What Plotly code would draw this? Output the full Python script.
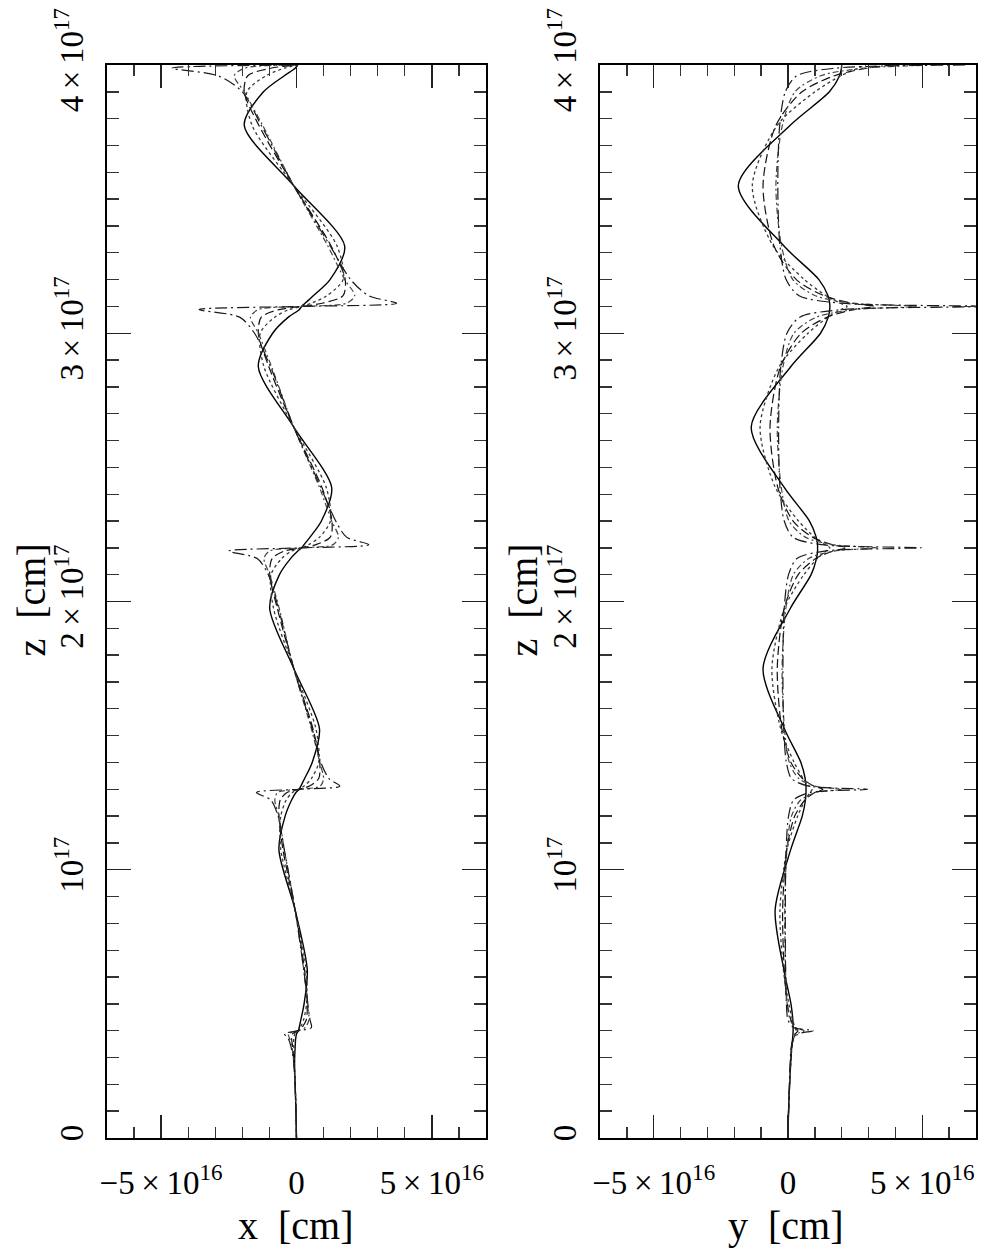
import plotly.graph_objects as go

# ---------------- data (z in units of 1e17 cm, x / y in units of 1e16 cm) ----------------
z_e17 = [0, 0.1, 0.2, 0.28, 0.34, 0.37, 0.388,
         0.40, 0.412, 0.44, 0.50, 0.625, 0.85, 1.075, 1.20, 1.26, 1.288,
         1.30, 1.312, 1.34, 1.40, 1.525, 1.75, 1.975, 2.10, 2.16, 2.188,
         2.20, 2.212, 2.24, 2.30, 2.425, 2.65, 2.875, 3.00, 3.06, 3.088,
         3.10, 3.112, 3.14, 3.20, 3.325, 3.55, 3.775, 3.90, 3.96, 3.988,
         4.00]

# left panel: x(z)
x_solid = [0, -0.02, -0.05, -0.07, -0.05, -0.03, 0.0,
           0.07, 0.10, 0.16, 0.28, 0.40, -0.05, -0.65, -0.42, -0.18, -0.02,
           0.10, 0.16, 0.30, 0.58, 0.85, -0.10, -0.99, -0.63, -0.22, 0.05,
           0.19, 0.28, 0.50, 0.92, 1.30, -0.10, -1.41, -0.88, -0.30, 0.10,
           0.19, 0.32, 0.62, 1.24, 1.78, -0.10, -1.93, -1.22, -0.45, -0.05,
           0.05]
x_dot = [0, -0.02, -0.05, -0.08, -0.10, -0.10, -0.06,
         0.07, 0.14, 0.26, 0.37, 0.36, -0.05, -0.58, -0.58, -0.38, -0.15,
         0.10, 0.28, 0.55, 0.82, 0.72, -0.10, -0.85, -0.94, -0.55, -0.18,
         0.19, 0.45, 0.85, 1.25, 1.10, -0.10, -1.20, -1.34, -0.80, -0.28,
         0.19, 0.55, 1.12, 1.72, 1.50, -0.10, -1.64, -1.83, -1.12, -0.45,
         0.05]
x_dash = [0, -0.02, -0.05, -0.09, -0.14, -0.18, -0.15,
          0.07, 0.20, 0.36, 0.40, 0.30, -0.05, -0.50, -0.65, -0.60, -0.35,
          0.10, 0.48, 0.82, 0.86, 0.61, -0.10, -0.71, -0.99, -0.90, -0.45,
          0.19, 0.72, 1.25, 1.31, 0.94, -0.10, -1.02, -1.41, -1.30, -0.65,
          0.19, 0.95, 1.72, 1.80, 1.28, -0.10, -1.39, -1.93, -1.80, -0.95,
          0.05]
x_dashdot = [0, -0.02, -0.05, -0.10, -0.17, -0.25, -0.30,
             0.07, 0.32, 0.46, 0.40, 0.27, -0.05, -0.45, -0.65, -0.80, -0.70,
             0.10, 0.88, 1.00, 0.86, 0.55, -0.10, -0.64, -0.99, -1.20, -1.00,
             0.19, 1.35, 1.55, 1.30, 0.85, -0.10, -0.92, -1.41, -1.70, -1.41,
             0.19, 1.85, 2.15, 1.78, 1.16, -0.10, -1.25, -1.93, -2.30, -1.93,
             0.05]
x_longdashdot = [0, -0.02, -0.05, -0.10, -0.20, -0.30, -0.44,
                 0.07, 0.55, 0.50, 0.42, 0.27, -0.05, -0.45, -0.68, -0.95, -1.48,
                 0.10, 1.60, 1.20, 0.90, 0.58, -0.10, -0.67, -1.04, -1.45, -2.50,
                 0.19, 2.67, 1.85, 1.45, 0.90, -0.10, -0.96, -1.55, -2.10, -3.60,
                 0.19, 3.70, 2.67, 2.00, 1.25, -0.10, -1.30, -2.00, -2.90, -4.60,
                 0.05]

# right panel: y(z)
y_solid = [0, 0.02, 0.06, 0.10, 0.14, 0.17, 0.185,
           0.19, 0.19, 0.18, 0.11, -0.15, -0.48, 0.10, 0.53, 0.65, 0.67,
           0.67, 0.67, 0.64, 0.48, -0.13, -0.93, 0.09, 0.86, 1.06, 1.10,
           1.10, 1.10, 1.05, 0.80, -0.14, -1.37, 0.10, 1.21, 1.50, 1.55,
           1.56, 1.55, 1.49, 1.15, -0.15, -1.85, 0.08, 1.54, 1.92, 1.99,
           2.00]
y_dot = [0, 0.02, 0.06, 0.10, 0.15, 0.20, 0.26,
         0.30, 0.26, 0.17, 0.03, -0.17, -0.30, -0.04, 0.36, 0.64, 0.82,
         0.90, 0.80, 0.57, 0.23, -0.27, -0.60, -0.13, 0.59, 1.09, 1.41,
         1.56, 1.38, 0.99, 0.39, -0.47, -1.04, -0.33, 0.74, 1.49, 1.97,
         2.20, 1.95, 1.42, 0.61, -0.55, -1.33, -0.40, 1.00, 1.97, 2.60,
         2.90]
y_dash = [0, 0.02, 0.06, 0.10, 0.14, 0.20, 0.27,
          0.37, 0.26, 0.11, -0.03, -0.14, -0.20, -0.05, 0.25, 0.63, 1.00,
          1.30, 0.96, 0.54, 0.11, -0.23, -0.40, -0.14, 0.38, 1.03, 1.68,
          2.20, 1.63, 0.91, 0.19, -0.38, -0.67, -0.28, 0.49, 1.46, 2.43,
          3.20, 2.37, 1.34, 0.31, -0.52, -0.93, -0.45, 0.52, 1.73, 2.93,
          3.90]
y_dashdot = [0, 0.02, 0.06, 0.09, 0.13, 0.20, 0.32,
             0.60, 0.28, 0.08, -0.03, -0.09, -0.12, -0.04, 0.13, 0.47, 1.05,
             2.00, 1.00, 0.40, 0.05, -0.13, -0.22, -0.08, 0.20, 0.77, 1.72,
             3.30, 1.64, 0.64, 0.04, -0.25, -0.40, -0.19, 0.22, 1.06, 2.46,
             4.80, 2.44, 1.02, 0.18, -0.24, -0.45, -0.21, 0.26, 1.22, 2.82,
             5.50]
y_longdashdot = [0, 0.02, 0.05, 0.08, 0.12, 0.20, 0.38,
                 0.93, 0.21, 0.00, -0.06, -0.09, -0.10, -0.07, 0.02, 0.21, 0.82,
                 2.96, 0.76, 0.13, -0.06, -0.16, -0.19, -0.14, 0.02, 0.33, 1.36,
                 4.96, 1.24, 0.18, -0.14, -0.30, -0.35, -0.27, -0.04, 0.44, 2.01,
                 7.50, 1.98, 0.41, -0.07, -0.30, -0.38, -0.31, -0.10, 0.33, 1.74,
                 6.70]

x_tick_vals = [-5e16, 0, 5e16]
x_tick_text = ["\u22125\u2009\u00d7\u200910<sup>16</sup>", "0", "5\u2009\u00d7\u200910<sup>16</sup>"]
z_tick_vals = [0, 1e17, 2e17, 3e17, 4e17]
z_tick_text = ["0", "10<sup>17</sup>", "2\u2009\u00d7\u200910<sup>17</sup>",
               "3\u2009\u00d7\u200910<sup>17</sup>", "4\u2009\u00d7\u200910<sup>17</sup>"]

# ---------------- styles ----------------
styles = [
    dict(color="#000000", width=1.4, dash="solid"),
    dict(color="#3a3a3a", width=1.3, dash="dot"),
    dict(color="#111111", width=1.2, dash="9px,4px"),
    dict(color="#444444", width=1.2, dash="6px,3px,2px,3px"),
    dict(color="#1a1a1a", width=1.2, dash="12px,4px,2px,4px"),
]

z_cm = [v * 1e17 for v in z_e17]
left_series = [x_solid, x_dot, x_dash, x_dashdot, x_longdashdot]
right_series = [y_solid, y_dot, y_dash, y_dashdot, y_longdashdot]

fig = go.Figure()
for vals, st in zip(left_series, styles):
    fig.add_trace(go.Scatter(x=[v * 1e16 for v in vals], y=z_cm, mode="lines",
                             line=dict(shape="spline", smoothing=0.8, **st),
                             xaxis="x", yaxis="y", showlegend=False, hoverinfo="skip"))
for vals, st in zip(right_series, styles):
    fig.add_trace(go.Scatter(x=[v * 1e16 for v in vals], y=z_cm, mode="lines",
                             line=dict(shape="spline", smoothing=0.8, **st),
                             xaxis="x2", yaxis="y2", showlegend=False, hoverinfo="skip"))

FONT = "Liberation Serif"
tickfont = dict(family=FONT, size=33, color="black")

def xaxis_cfg(domain, anchor):
    return dict(domain=domain, anchor=anchor, range=[-7e16, 7e16], automargin=False,
                tickmode="array", tickvals=x_tick_vals, ticktext=x_tick_text,
                ticks="inside", ticklen=23, tickwidth=1.4, tickcolor="#222",
                showline=True, linewidth=2, linecolor="black", mirror="ticks",
                showgrid=False, zeroline=False, tickfont=tickfont,
                ticklabelstandoff=14,
                minor=dict(tickmode="linear", tick0=0, dtick=1e16, ticks="inside",
                           ticklen=11, tickwidth=1.4, tickcolor="#333", showgrid=False))

def yaxis_cfg(anchor):
    return dict(domain=[0.0896, 0.948], anchor=anchor, range=[0, 4e17], automargin=False,
                tickmode="array", tickvals=z_tick_vals, ticktext=z_tick_text,
                tickangle=-90,
                ticks="inside", ticklen=24, tickwidth=1.4, tickcolor="#222",
                showline=True, linewidth=2, linecolor="black", mirror="ticks",
                showgrid=False, zeroline=False, tickfont=tickfont,
                ticklabelstandoff=9,
                minor=dict(tickmode="linear", tick0=0, dtick=1e16, ticks="inside",
                           ticklen=12, tickwidth=1.4, tickcolor="#333", showgrid=False))

titlefont = dict(family=FONT, size=40, color="black")
fig.update_layout(
    template="none",
    width=986, height=1250,
    margin=dict(l=0, r=0, t=0, b=0, autoexpand=False),
    paper_bgcolor="white", plot_bgcolor="white",
    xaxis=xaxis_cfg([0.1085, 0.4929], "y"),
    yaxis=yaxis_cfg("x"),
    xaxis2=xaxis_cfg([0.6085, 0.9899], "y2"),
    yaxis2=yaxis_cfg("x2"),
    annotations=[
        dict(text="x\u2002[cm]", x=0.300, y=0.020, xref="paper", yref="paper",
             showarrow=False, font=titlefont, xanchor="center", yanchor="middle"),
        dict(text="y\u2002[cm]", x=0.797, y=0.020, xref="paper", yref="paper",
             showarrow=False, font=titlefont, xanchor="center", yanchor="middle"),
        dict(text="z\u2002[cm]", x=0.031, y=0.520, xref="paper", yref="paper",
             showarrow=False, font=titlefont, textangle=-90, xanchor="center", yanchor="middle"),
        dict(text="z\u2002[cm]", x=0.530, y=0.520, xref="paper", yref="paper",
             showarrow=False, font=titlefont, textangle=-90, xanchor="center", yanchor="middle"),
    ],
)

fig.write_html("out.html",
               config={"displayModeBar": False, "staticPlot": True},
               post_script="document.body.style.margin='0px';document.body.style.overflow='hidden';")
